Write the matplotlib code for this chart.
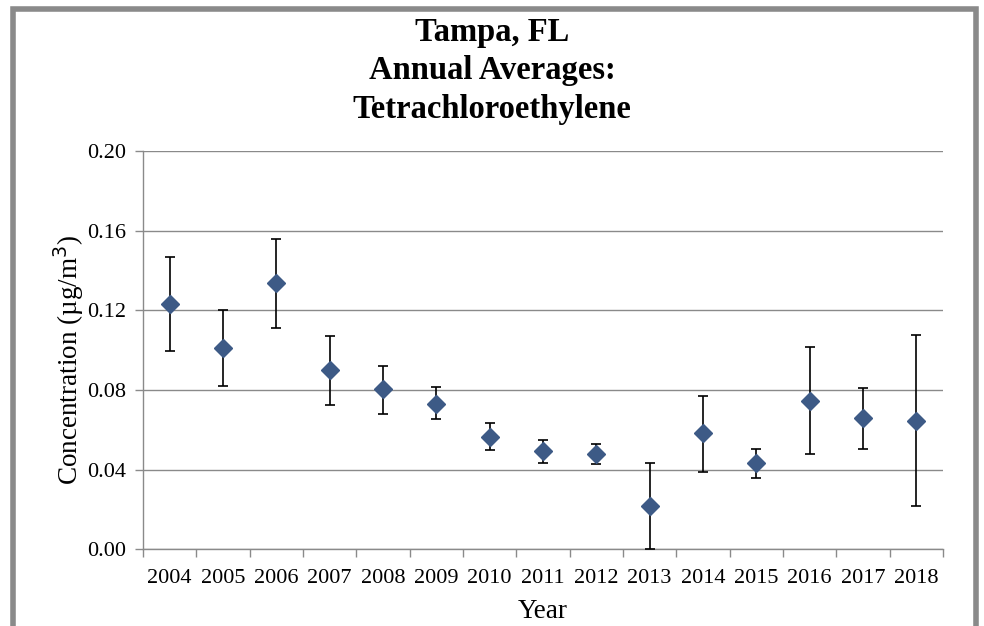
import matplotlib
matplotlib.use("Agg")
import matplotlib.pyplot as plt
from matplotlib.patches import Rectangle
import numpy as np

years = ["2004", "2005", "2006", "2007", "2008", "2009", "2010", "2011",
         "2012", "2013", "2014", "2015", "2016", "2017", "2018"]
means = [0.1233, 0.1012, 0.1337, 0.0901, 0.0804, 0.0732, 0.0564, 0.0492,
         0.0479, 0.0218, 0.0583, 0.0434, 0.0744, 0.0661, 0.0646]
upper = [0.1467, 0.1201, 0.1558, 0.1070, 0.0920, 0.0816, 0.0635, 0.0549,
         0.0531, 0.0434, 0.0770, 0.0504, 0.1018, 0.0811, 0.1077]
lower = [0.0998, 0.0822, 0.1109, 0.0725, 0.0680, 0.0655, 0.0500, 0.0434,
         0.0427, 0.0003, 0.0388, 0.0357, 0.0480, 0.0504, 0.0219]
yticks = [0.00, 0.04, 0.08, 0.12, 0.16, 0.20]

plt.rcParams['font.family'] = ['Liberation Serif', 'DejaVu Serif']

fig = plt.figure(figsize=(9.84, 6.26), dpi=100)
fig.patch.set_facecolor('white')

# outer chart frame
fig.patches.append(Rectangle((12.5/984, -0.05), (976-12.5)/984, 1.05 - 9/626,
                             transform=fig.transFigure, fill=False,
                             edgecolor='#8a8a8a', linewidth=4, zorder=0))

ax = fig.add_axes([143/984, 76.7/626, 800/984, 398.3/626])
x = np.arange(len(years))
m = np.array(means)
yerr = np.vstack([m - np.array(lower), np.array(upper) - m])
ax.errorbar(x, m, yerr=yerr, fmt='D', color='#3d5a86', markersize=9,
            markeredgecolor='#3d5a86', ecolor='black', elinewidth=1.2,
            capsize=3.5, capthick=1.2, zorder=3)

ax.set_xlim(-0.5, len(years) - 0.5)
ax.set_ylim(0, 0.20)
ax.set_yticks(yticks)
ax.set_yticklabels([f"{v:.2f}" for v in yticks])
ax.set_xticks(x)
ax.set_xticklabels(years)
ax.set_xticks(np.arange(-0.5, len(years), 1.0), minor=True)
ax.tick_params(axis='x', which='major', length=0, labelsize=16, pad=14)
ax.tick_params(axis='x', which='minor', length=6, color='#8a8a8a', width=1)
ax.tick_params(axis='y', length=6, color='#8a8a8a', width=1, labelsize=16, pad=6)
ax.grid(axis='y', color='#8a8a8a', linewidth=1)
ax.set_axisbelow(True)
for s in ['top', 'right']:
    ax.spines[s].set_visible(False)
for s in ['left', 'bottom']:
    ax.spines[s].set_color('#8a8a8a')
    ax.spines[s].set_linewidth(1)

ax.set_xlabel("Year", fontsize=19.5, labelpad=8)
ax.set_ylabel("Concentration (µg/m$^3$)", fontsize=19.5, labelpad=1)
ax.yaxis.label.set_y(0.475)

fig.text(0.5, 1 - 71/626, "Tampa, FL\nAnnual Averages:\nTetrachloroethylene",
         ha='center', va='center', fontsize=23.5, fontweight='bold',
         linespacing=1.33)

fig.savefig("out.png", dpi=100)
